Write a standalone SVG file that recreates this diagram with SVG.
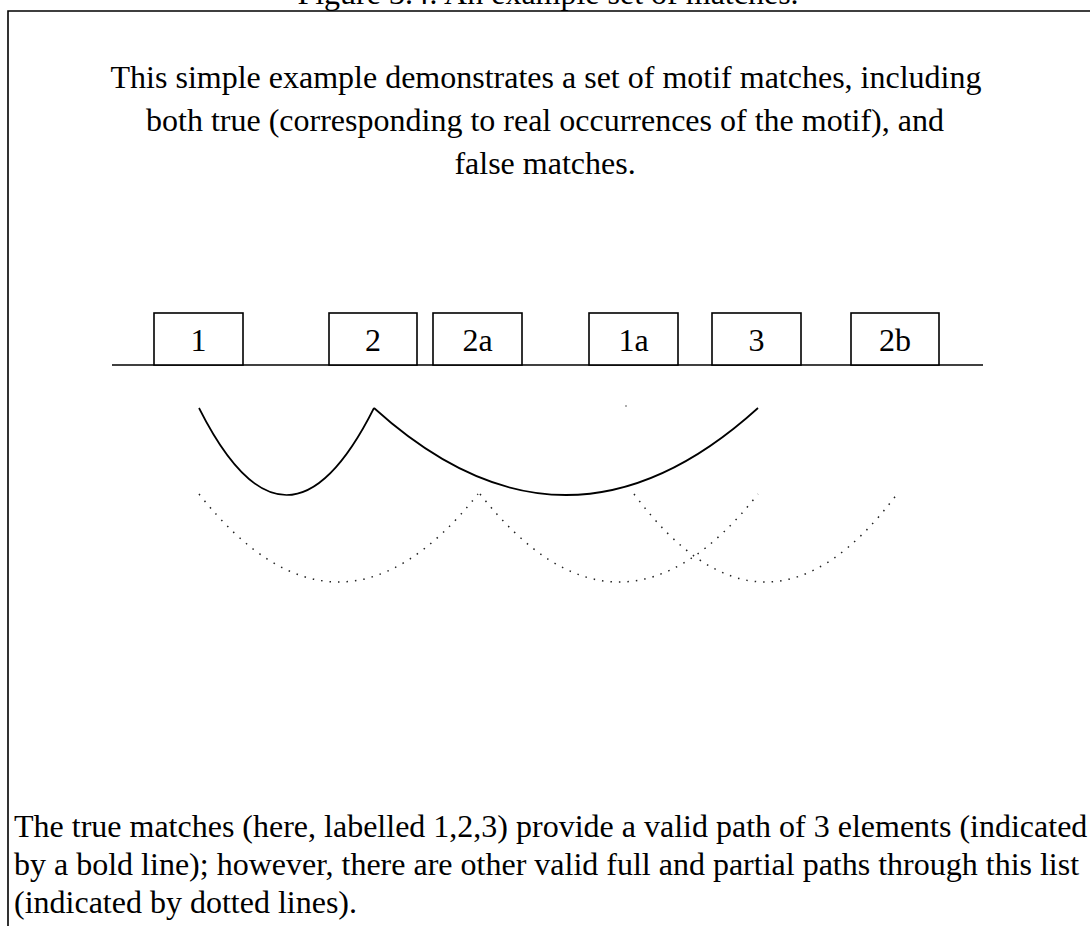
<svg xmlns="http://www.w3.org/2000/svg" width="1090" height="926" viewBox="0 0 1090 926">
<style>
text{font-family:"Liberation Serif","Times New Roman",serif;fill:#000;font-size:32px}
.c{text-anchor:middle}
.box{fill:#fff;stroke:#000;stroke-width:1.6}
.lbl{text-anchor:middle;font-size:32px}
.solid{fill:none;stroke:#000;stroke-width:1.7}
.dot{fill:none;stroke:#222;stroke-width:1.5;stroke-dasharray:1.5 7}
.frame{stroke:#000;stroke-width:1.6;fill:none}
</style>
<rect width="1090" height="926" fill="#fff"/>
<text class="c" x="548" y="4">Figure 3.4: An example set of matches.</text>
<path class="frame" d="M8,926 V11 H1090"/>
<g id="caption-top">
<text class="c" x="546" y="88">This simple example demonstrates a set of motif matches, including</text>
<text class="c" x="545" y="131">both true (corresponding to real occurrences of the motif), and</text>
<text class="c" x="545" y="174">false matches.</text>
</g>
<g id="sequence">
<line x1="112" y1="365" x2="983" y2="365" stroke="#000" stroke-width="1.6"/>
</g>
<g id="m1"><rect class="box" x="154" y="313" width="89" height="52"/><text class="lbl" x="198.5" y="351">1</text></g>
<g id="m2"><rect class="box" x="329" y="313" width="88" height="52"/><text class="lbl" x="373" y="351">2</text></g>
<g id="m2a"><rect class="box" x="433" y="313" width="89" height="52"/><text class="lbl" x="477.5" y="351">2a</text></g>
<g id="m1a"><rect class="box" x="589" y="313" width="89" height="52"/><text class="lbl" x="633.5" y="351">1a</text></g>
<g id="m3"><rect class="box" x="712" y="313" width="89" height="52"/><text class="lbl" x="756.5" y="351">3</text></g>
<g id="m2b"><rect class="box" x="851" y="313" width="88" height="52"/><text class="lbl" x="895" y="351">2b</text></g>
<g id="connectors">
<path class="solid" d="M199,408 Q286.5,582 374,408"/>
<path class="solid" d="M374,408 Q566,582 758,408"/>
<path class="dot" d="M199,494 Q338.5,670 478,494"/>
<path class="dot" d="M480,494 Q619,670 758,494"/>
<path class="dot" d="M634,494 Q765.5,670 897,494"/>
<circle cx="626" cy="406" r="0.8" fill="#444"/>
</g>
<g id="caption-bottom">
<text x="14" y="837">The true matches (here, labelled 1,2,3) provide a valid path of 3 elements (indicated</text>
<text x="14" y="875">by a bold line); however, there are other valid full and partial paths through this list</text>
<text x="14" y="913">(indicated by dotted lines).</text>
</g>
</svg>
